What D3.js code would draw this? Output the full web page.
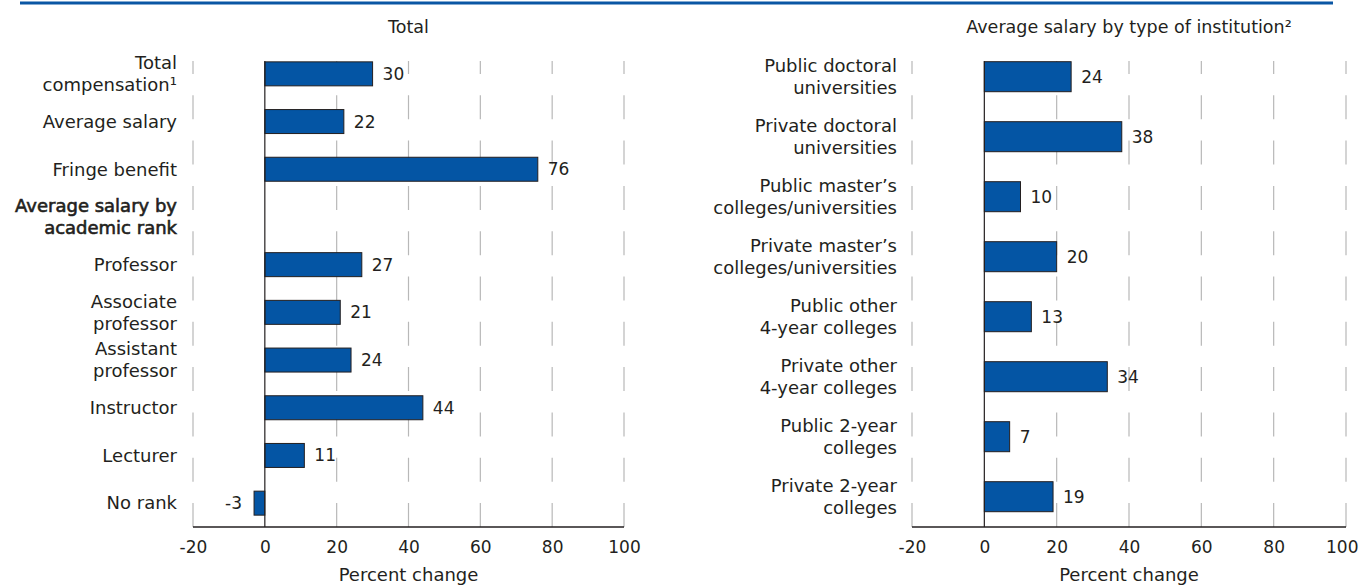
<!DOCTYPE html>
<html>
<head>
<meta charset="utf-8">
<script src="https://cdn.jsdelivr.net/npm/d3@7"></script>
<style>
  html, body { margin: 0; padding: 0; background: #fff; }
  svg { display: block; }
  text { font-family: "DejaVu Sans", sans-serif; fill: #231f20; }
</style>
</head>
<body>
<svg id="chart" width="1359" height="586"></svg>
<script>
// ---- Data ----
const leftTitle = "Total";
const leftCategories = [
  ["Total", "compensation\u00B9"],
  ["Average salary"],
  ["Fringe benefit"],
  ["Average salary by", "academic rank"],
  ["Professor"],
  ["Associate", "professor"],
  ["Assistant", "professor"],
  ["Instructor"],
  ["Lecturer"],
  ["No rank"]
];
const leftValues = [30, 22, 76, null, 27, 21, 24, 44, 11, -3];
const leftHeaders = [false, false, false, true, false, false, false, false, false, false];

const rightTitle = "Average salary by type of institution\u00B2";
const rightCategories = [
  ["Public doctoral", "universities"],
  ["Private doctoral", "universities"],
  ["Public master\u2019s", "colleges/universities"],
  ["Private master\u2019s", "colleges/universities"],
  ["Public other", "4-year colleges"],
  ["Private other", "4-year colleges"],
  ["Public 2-year", "colleges"],
  ["Private 2-year", "colleges"]
];
const rightValues = [24, 38, 10, 20, 13, 34, 7, 19];

const xTicks = [-20, 0, 20, 40, 60, 80, 100];
const xDomain = [-20, 100];
const xAxisTitle = "Percent change";

// ---- Drawing ----
const svg = d3.select("#chart");
const BLUE = "#0455a4";
const DARK = "#231f20";
const GRID = "#b8b8b8";
const W = 1359;

svg.append("line")
  .attr("x1", 20).attr("x2", 1333).attr("y1", 3).attr("y2", 3)
  .attr("stroke", "#0a56a4").attr("stroke-width", 3);

function panel(opts) {
  const g = svg.append("g");
  const x = d3.scaleLinear().domain(xDomain).range(opts.xRange);
  const y = d3.scaleBand().domain(d3.range(opts.cats.length))
    .range(opts.yRange).paddingInner(opts.pad).paddingOuter(opts.pad / 2);
  const axisY = opts.axisY, gridTop = opts.gridTop;

  // dashed gridlines (drawn from the axis upward)
  g.selectAll("line.grid").data(xTicks.filter(t => t !== 0)).join("line")
    .attr("class", "grid")
    .attr("x1", d => x(d)).attr("x2", d => x(d))
    .attr("y1", axisY).attr("y2", gridTop)
    .attr("stroke", GRID).attr("stroke-width", 1.2)
    .attr("stroke-dasharray", "24,21.3");

  // bars
  const rows = opts.vals.map((v, i) => ({ v, i })).filter(d => d.v !== null);
  g.selectAll("rect.bar").data(rows).join("rect")
    .attr("class", "bar")
    .attr("x", d => x(Math.min(0, d.v)))
    .attr("width", d => Math.abs(x(d.v) - x(0)))
    .attr("y", d => y(d.i))
    .attr("height", y.bandwidth())
    .attr("fill", BLUE).attr("stroke", DARK).attr("stroke-width", 1);

  // zero line
  g.append("line")
    .attr("x1", x(0)).attr("x2", x(0)).attr("y1", gridTop).attr("y2", axisY)
    .attr("stroke", DARK).attr("stroke-width", 1.2);

  // value labels
  g.selectAll("text.val").data(rows).join("text")
    .attr("class", "val")
    .attr("x", d => d.v >= 0 ? x(d.v) + 10 : x(d.v) - 12)
    .attr("y", d => y(d.i) + y.bandwidth() / 2)
    .attr("dy", "0.35em")
    .attr("text-anchor", d => d.v >= 0 ? "start" : "end")
    .style("font-size", "17px")
    .text(d => d.v);

  // category labels
  opts.cats.forEach((lines, i) => {
    const cy = y(i) + y.bandwidth() / 2;
    const isHead = opts.headers && opts.headers[i];
    const t = g.append("text")
      .attr("x", opts.labelX)
      .attr("text-anchor", "end")
      .style("font-size", "18px");
    if (isHead) {
      t.style("stroke", DARK).style("stroke-width", "0.6px");
    }
    const n = lines.length;
    lines.forEach((ln, k) => {
      t.append("tspan")
        .attr("x", opts.labelX)
        .attr("y", cy + (k - (n - 1) / 2) * 22)
        .attr("dy", "0.35em")
        .text(ln);
    });
  });

  // x axis line
  g.append("line")
    .attr("x1", x(xDomain[0])).attr("x2", x(xDomain[1]))
    .attr("y1", axisY).attr("y2", axisY)
    .attr("stroke", DARK).attr("stroke-width", 1.3);

  // tick labels via d3 axis
  const ax = g.append("g").attr("transform", `translate(0,${axisY})`)
    .call(d3.axisBottom(x).tickValues(xTicks).tickSize(0).tickPadding(14).tickFormat(d => String(d)));
  ax.select(".domain").remove();
  ax.selectAll("text").style("font-size", "17px").style("font-family", "DejaVu Sans, sans-serif").attr("fill", DARK);
  // keep the rightmost tick label inside the page
  ax.selectAll(".tick").each(function(d) {
    const txt = d3.select(this).select("text");
    const w = txt.node().getComputedTextLength();
    const over = x(d) + w / 2 - (W - 1);
    if (over > 0) txt.attr("x", -over);
  });

  // axis title
  const cx = (x(xDomain[0]) + x(xDomain[1])) / 2;
  g.append("text").attr("x", cx).attr("y", 575).attr("dy", "0.35em")
    .attr("text-anchor", "middle").style("font-size", "18px").text(xAxisTitle);

  // panel title
  g.append("text").attr("x", cx).attr("y", 27).attr("dy", "0.35em")
    .attr("text-anchor", "middle").style("font-size", "17.5px").text(opts.title);
}

panel({
  title: leftTitle, cats: leftCategories, vals: leftValues, headers: leftHeaders,
  xRange: [193, 624], yRange: [50, 527], pad: 0.497, axisY: 527, gridTop: 61, labelX: 177
});
panel({
  title: rightTitle, cats: rightCategories, vals: rightValues,
  xRange: [912, 1346], yRange: [46.7, 526.7], pad: 0.5, axisY: 527, gridTop: 61, labelX: 897
});
</script>
</body>
</html>
